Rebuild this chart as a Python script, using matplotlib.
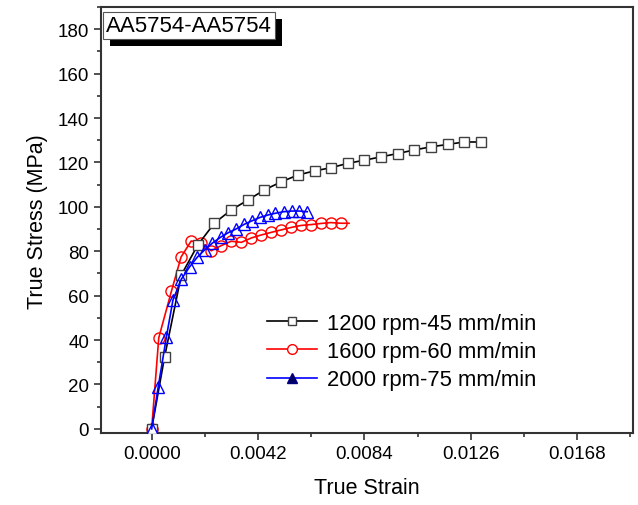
import matplotlib
matplotlib.use("Agg")
import matplotlib.pyplot as plt
from matplotlib.lines import Line2D
from matplotlib.ticker import MultipleLocator
import matplotlib.patheffects as pe

plt.rcParams['font.family'] = ['Liberation Sans', 'DejaVu Sans']

# 1200 rpm-45 mm/min
strain_1200 = [0.0, 0.00051, 0.00117, 0.00182, 0.00248, 0.00314, 0.00379, 0.00445, 0.00512,
               0.00577, 0.00643, 0.00708, 0.00774, 0.0084, 0.00905, 0.00971, 0.01036,
               0.01102, 0.01168, 0.01233, 0.01299]
stress_1200 = [0.0, 32.4, 69.3, 82.8, 92.7, 98.6, 103.0, 107.6, 111.3, 114.3, 116.2, 117.6,
               119.6, 121.0, 122.5, 124.0, 125.6, 127.0, 128.1, 129.2, 129.2]

# 1600 rpm-60 mm/min
strain_1600 = [0.0, 0.00028, 0.00078, 0.00116, 0.00156, 0.00196, 0.00235, 0.00274, 0.00314,
               0.00354, 0.00394, 0.00432, 0.00472, 0.00511, 0.0055, 0.00589, 0.00629,
               0.00668, 0.00707, 0.00748, 0.00779]
stress_1600 = [0.0, 41.0, 62.0, 77.4, 84.6, 83.8, 80.2, 82.5, 84.5, 84.0, 86.0, 87.3, 88.5,
               89.6, 90.7, 91.6, 92.0, 92.5, 92.9, 92.6, 92.6]

# 2000 rpm-75 mm/min
strain_2000 = [0.0, 0.00026, 0.00058, 0.00084, 0.00117, 0.0015, 0.0018, 0.00209, 0.00239,
               0.00272, 0.00303, 0.00333, 0.00365, 0.00396, 0.00427, 0.00458, 0.00488,
               0.00521, 0.00552, 0.00582, 0.00614]
stress_2000 = [0.0, 19.0, 41.3, 58.0, 67.4, 73.0, 77.3, 80.6, 83.6, 86.3, 88.4, 90.0, 92.1,
               93.7, 95.2, 96.3, 97.1, 97.8, 98.1, 98.1, 97.8]

labels = ['1200 rpm-45 mm/min', '1600 rpm-60 mm/min', '2000 rpm-75 mm/min']
x_ticks = [0.0, 0.0042, 0.0084, 0.0126, 0.0168]

fig = plt.figure(figsize=(6.38, 5.06), dpi=100)
ax = fig.add_axes([0.1583, 0.1417, 0.8339, 0.8425])

ax.plot(strain_1200, stress_1200, color='black', lw=1.2, marker='s', ms=7,
        mfc='white', mec='#404040', mew=1.0, zorder=3)
ax.plot(strain_1600, stress_1600, color='red', lw=1.2, marker='o', ms=8,
        mfc='none', mec='red', mew=1.0, markevery=list(range(len(strain_1600) - 1)), zorder=2)
ax.plot(strain_2000, stress_2000, color='blue', lw=1.2, marker='^', ms=8.5,
        mfc='none', mec='blue', mew=1.0, zorder=4)

ax.set_xlim(-0.002, 0.019)
ax.set_ylim(-2, 190)
ax.set_xticks(x_ticks)
ax.set_xticklabels(['%.4f' % v for v in x_ticks])
ax.xaxis.set_minor_locator(MultipleLocator(0.0021))
ax.yaxis.set_major_locator(MultipleLocator(20))
ax.yaxis.set_minor_locator(MultipleLocator(10))
ax.set_yticks(range(0, 181, 20))

for s in ax.spines.values():
    s.set_linewidth(1.5)
    s.set_color('#333333')
ax.tick_params(which='both', direction='out', top=False, right=False,
               color='#333333', width=1.2, labelsize=13.5)
ax.tick_params(which='major', length=5)
ax.tick_params(which='minor', length=3)

ax.set_xlabel('True Strain', fontsize=15.5, labelpad=11)
ax.set_ylabel('True Stress (MPa)', fontsize=15.5, labelpad=7)

handles = [
    Line2D([], [], color='black', lw=1.2, marker='s', ms=6, mfc='white', mec='#404040'),
    Line2D([], [], color='red', lw=1.2, marker='o', ms=7, mfc='white', mec='red'),
    Line2D([], [], color='blue', lw=1.2, marker='^', ms=7, mfc='#000060', mec='#000080'),
]
fig.legend(handles, labels, loc='upper left', bbox_to_anchor=(0.4185, 0.38),
           frameon=False, fontsize=15.8, handlelength=2.3, handletextpad=0.42,
           labelspacing=0.33, borderpad=0, borderaxespad=0)

t = fig.text(0.166, 0.9475, 'AA5754-AA5754', fontsize=16, ha='left', va='center',
             bbox=dict(boxstyle='square,pad=0.15', fc='white', ec='#555555', lw=0.8))
t.get_bbox_patch().set_path_effects([
    pe.SimplePatchShadow(offset=(5, -5), shadow_rgbFace='black', alpha=1.0),
    pe.Normal()])

fig.savefig('out.png', dpi=100)
